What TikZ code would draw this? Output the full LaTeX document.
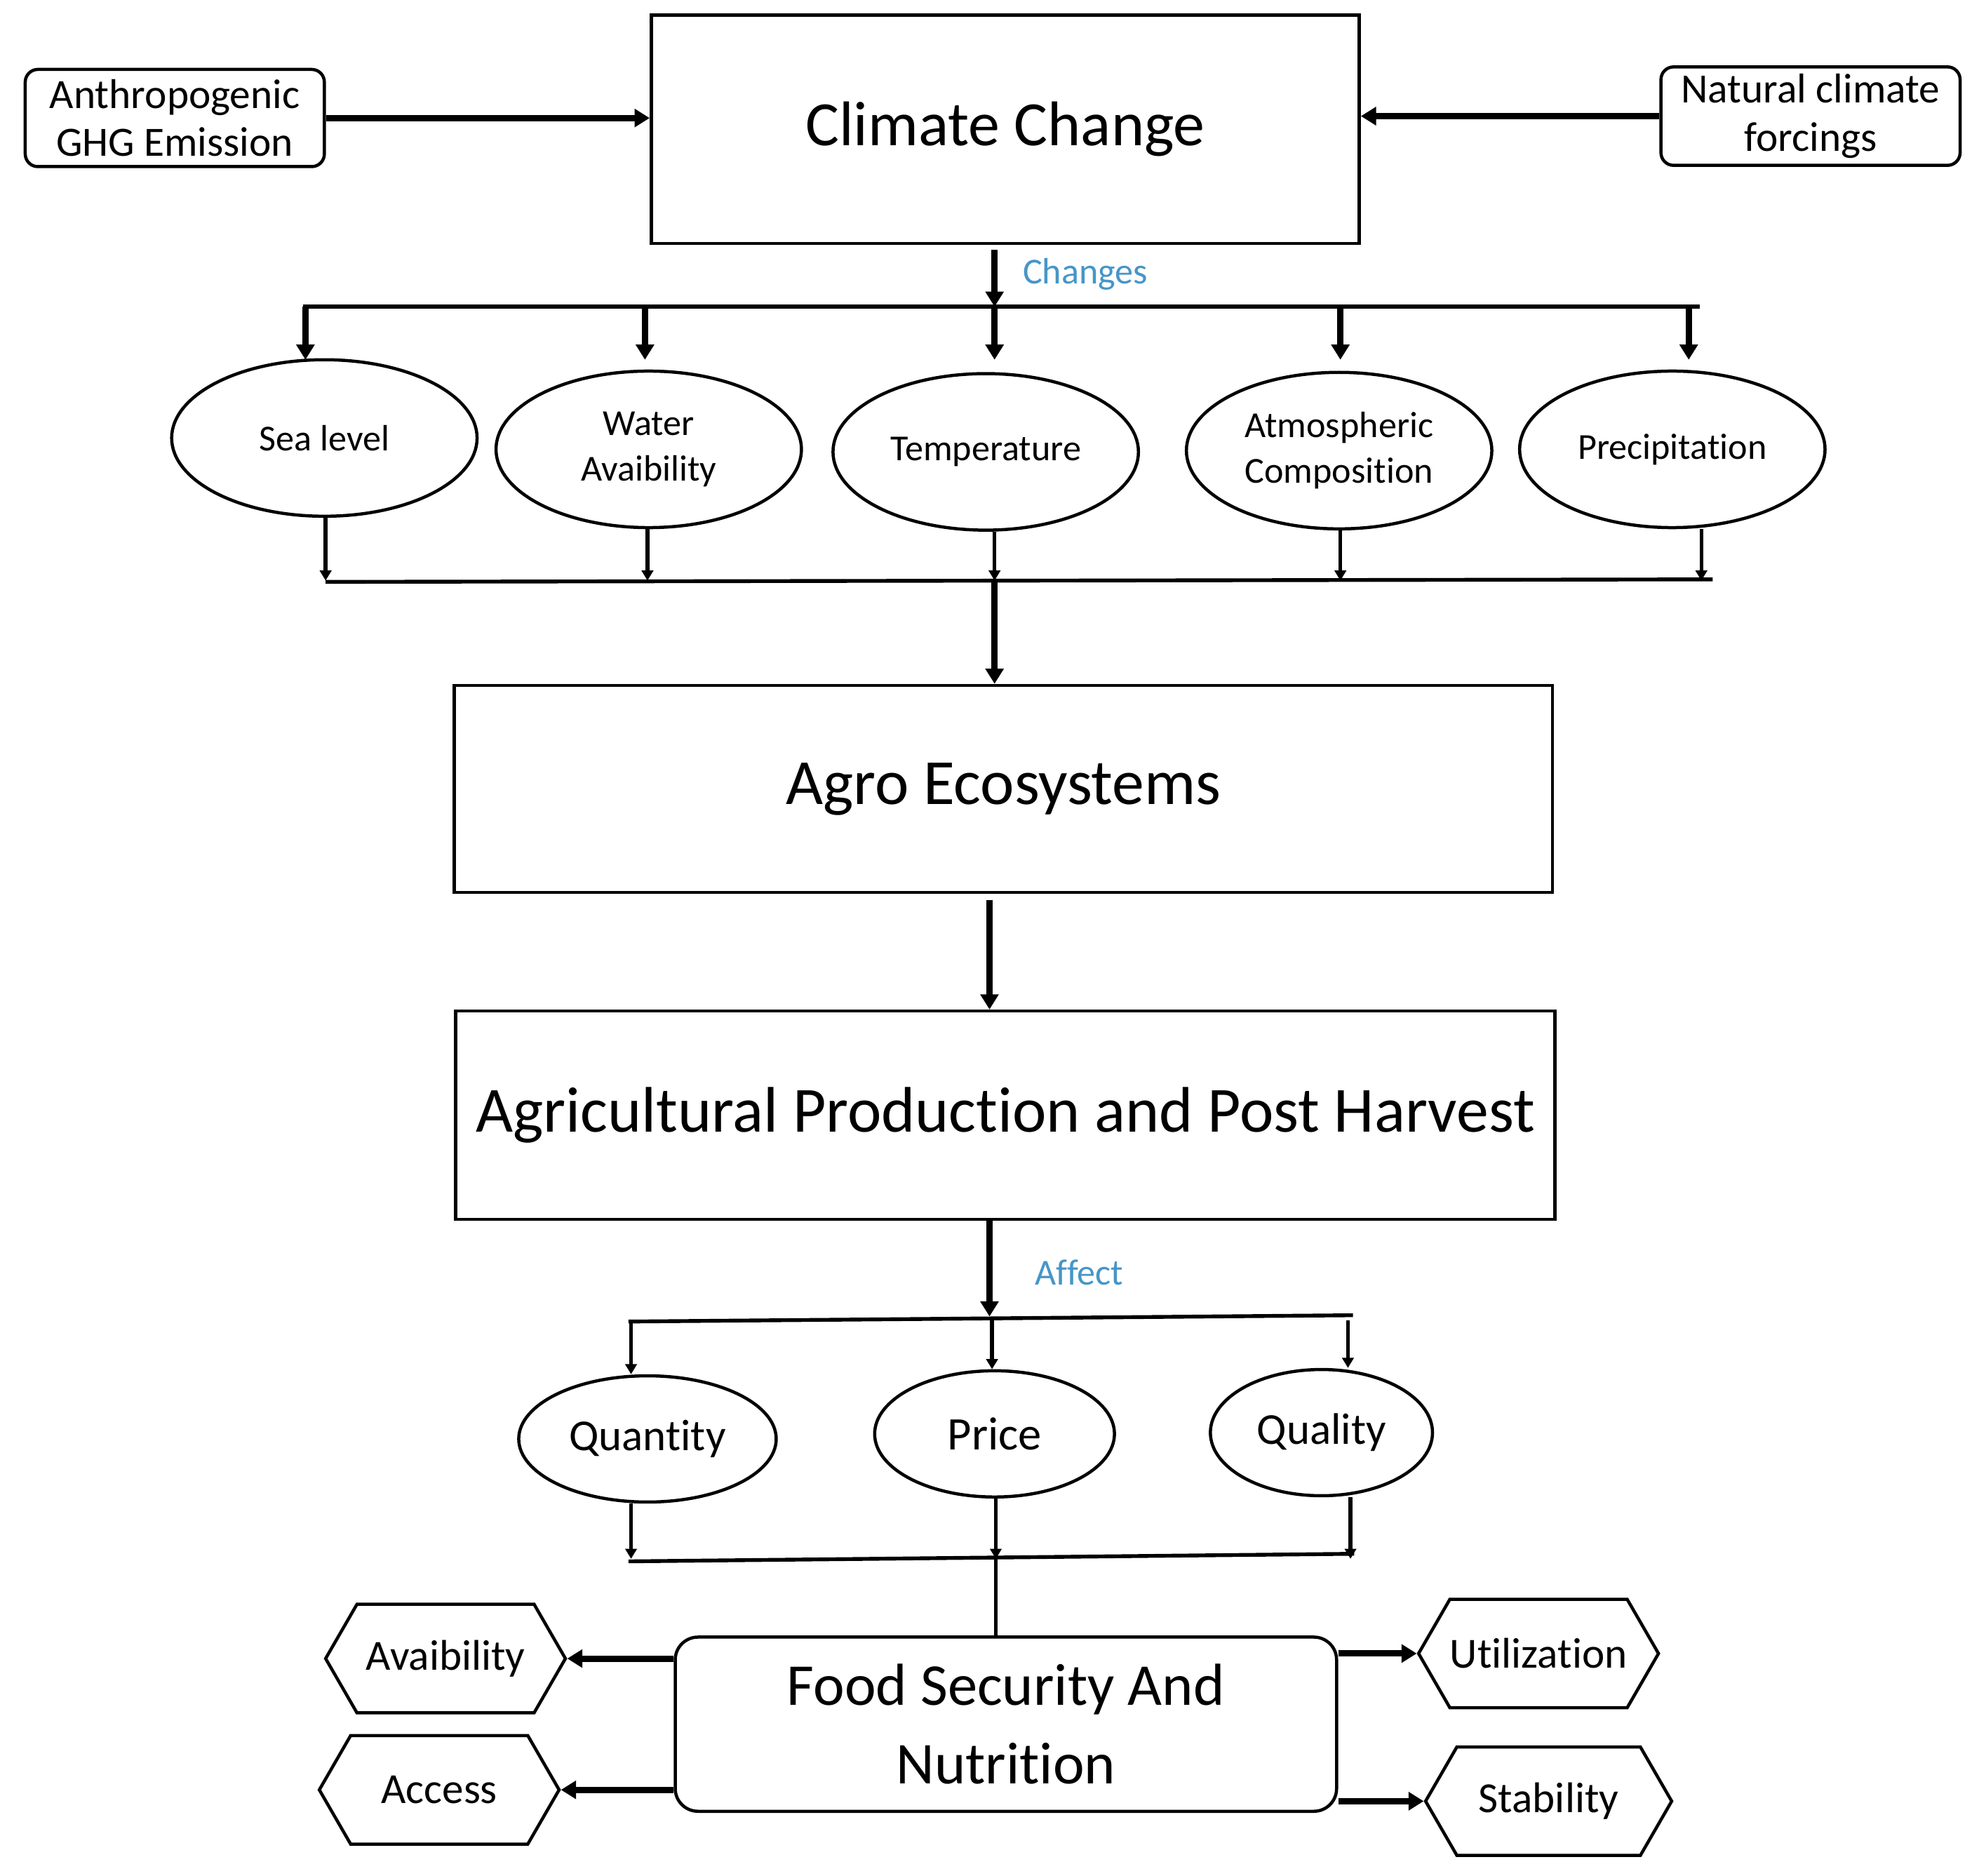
\documentclass[tikz,border=0pt]{standalone}
\usepackage{fontspec}
\setmainfont{Carlito}[Ligatures=NoCommon]
\usetikzlibrary{arrows.meta,shapes.geometric,shapes.symbols}
\definecolor{lblue}{RGB}{70,150,200}
\begin{document}
\begin{tikzpicture}[x=1pt,y=-1pt,
  box/.style={draw,line width=2.5pt,inner sep=0pt},
  ell/.style={draw,ellipse,line width=2.5pt,inner sep=0pt},
  hex/.style={draw,signal,signal to=east and west,signal pointer angle=120,line width=2.5pt,minimum width=190pt,minimum height=86pt,inner sep=0pt,font=\fontsize{34}{40}\selectfont},
  arr/.style={line width=5pt,-{Triangle[length=12pt,width=14pt]}},
  sarr/.style={line width=3pt,-{Triangle[length=8pt,width=9pt]}},
  ln/.style={line width=3pt},
  lbl/.style={text=lblue,font=\fontsize{29}{33}\selectfont}]
\useasboundingbox (0,0) rectangle (1568,1486);
\node[box,rounded corners=10pt,minimum width=237pt,minimum height=77pt,align=center,font=\fontsize{33}{38}\selectfont] (anth) at (138.5,93.5) {Anthropogenic\\GHG Emission};
\node[box,minimum width=561pt,minimum height=181pt,font=\fontsize{50}{56}\selectfont] (cc) at (796.5,102.5) {Climate Change};
\node[box,rounded corners=10pt,minimum width=237pt,minimum height=78pt,align=center,font=\fontsize{33}{38}\selectfont] (nat) at (1434.5,92) {Natural climate\\forcings};
\draw[arr] (anth.east) -- (cc.west|-anth.east);
\draw[arr] (nat.west) -- (cc.east|-nat.west);
\coordinate (t0) at (788,198); \coordinate (t1) at (788,243);
\draw[arr] (t0) -- (t1);
\node[lbl] (chg) at (860,217) {Changes};
\coordinate (hl) at (240,243); \coordinate (hr) at (1347,243);
\draw[ln] (hl) -- (hr);
\foreach \n/\x/\y/\t in {sl/257/347/{Sea level},wa/514/356/{Water\\Avaibility},te/781/358/{Temperature},at/1061/357/{Atmospheric\\Composition},pr/1325/356/{Precipitation}}{
  \node[ell,minimum width=242pt,minimum height=124pt,align=center,font=\fontsize{29}{36}\selectfont] (\n) at (\x,\y) {\t};
}
\foreach \x in {242,511,788,1062,1338}{
  \coordinate (a\x) at (\x,243); \coordinate (b\x) at (\x,285);
  \draw[arr] (a\x) -- (b\x);
}
\foreach \n/\x in {sl/258,wa/513,te/788,at/1062,pr/1348}{
  \coordinate (c\x) at (\x,460);
  \draw[sarr] (\n.south-|c\x) -- (c\x);
}
\coordinate (ml) at (258,461); \coordinate (mr) at (1357,459);
\draw[ln] (ml) -- (mr);
\node[box,minimum width=870pt,minimum height=164pt,font=\fontsize{51}{56}\selectfont] (agro) at (795,625) {Agro Ecosystems};
\draw[arr] (c788) -- (agro.north-|c788);
\node[box,minimum width=871pt,minimum height=165pt,font=\fontsize{51}{56}\selectfont] (apph) at (796.5,883.5) {Agricultural Production and Post Harvest};
\coordinate (d0) at (784,713);
\draw[arr] (d0) -- (apph.north-|d0);
\coordinate (e0) at (784,966); \coordinate (e1) at (784,1043);
\draw[arr] (e0) -- (e1);
\node[lbl] (aff) at (855,1008) {Affect};
\coordinate (fl) at (498,1047); \coordinate (fr) at (1072,1042);
\draw[ln] (fl) -- (fr);
\node[ell,minimum width=204pt,minimum height=100pt,font=\fontsize{35}{40}\selectfont] (qn) at (513,1140) {Quantity};
\node[ell,minimum width=190pt,minimum height=100pt,font=\fontsize{37}{42}\selectfont] (pc) at (788,1136) {Price};
\node[ell,minimum width=176pt,minimum height=100pt,font=\fontsize{35}{40}\selectfont] (ql) at (1047,1135) {Quality};
\foreach \n/\x in {qn/500,pc/786,ql/1068}{
  \coordinate (g\x) at (\x,1046);
  \draw[sarr] (g\x) -- (\n.north-|g\x);
}
\foreach \n/\x in {qn/500,pc/789,ql/1070}{
  \coordinate (h\x) at (\x,1235);
  \draw[sarr] (\n.south-|h\x) -- (h\x);
}
\coordinate (il) at (498,1237); \coordinate (ir) at (1073,1231);
\draw[ln] (il) -- (ir);
\node[box,rounded corners=18pt,minimum width=524pt,minimum height=138pt,align=center,font=\fontsize{47}{62}\selectfont] (fs) at (797,1366) {Food Security And\\Nutrition};
\draw[ln] (h789) -- (fs.north-|h789);
\node[hex] (av) at (353,1314) {Avaibility};
\node[hex] (ac) at (348,1418) {Access};
\node[hex] (ut) at (1219,1310) {Utilization};
\node[hex,minimum width=195pt] (st) at (1227,1427) {Stability};
\draw[arr] (fs.west|-av) -- (av.east);
\draw[arr] (fs.west|-ac) -- (ac.east);
\draw[arr] (fs.east|-ut) -- (ut.west);
\draw[arr] (fs.east|-st) -- (st.west);
\end{tikzpicture}
\end{document}
